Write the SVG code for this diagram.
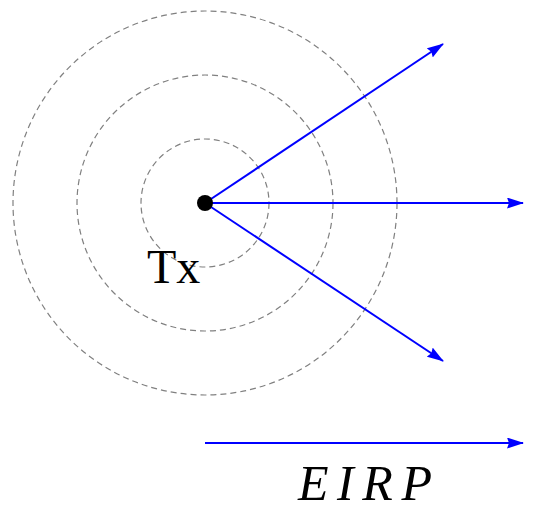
<svg xmlns="http://www.w3.org/2000/svg" width="534" height="516" viewBox="0 0 534 516">
<style>
.ring{fill:none;stroke:#808080;stroke-width:1.2;stroke-dasharray:6,4}
.ray{stroke:#0000ff;stroke-width:2;fill:none}
.lbl{font-family:"Liberation Serif",serif;fill:#000}
</style>
<defs>
<marker id="ah" viewBox="0 0 17 11" refX="16" refY="5.5" markerWidth="17" markerHeight="11" markerUnits="userSpaceOnUse" orient="auto">
<path d="M0,0 L17,5.5 L0,11 L2,5.5 Z" fill="#0000ff"/>
</marker>
</defs>
<g id="rings">
<circle class="ring" cx="205" cy="203" r="64"/>
<circle class="ring" cx="205" cy="203" r="128"/>
<circle class="ring" cx="205" cy="203" r="192"/>
</g>
<g id="connectors">
<line class="ray" x1="205" y1="203" x2="443" y2="44" marker-end="url(#ah)"/>
<line class="ray" x1="205" y1="203" x2="523" y2="203" marker-end="url(#ah)"/>
<line class="ray" x1="205" y1="203" x2="443" y2="361" marker-end="url(#ah)"/>
<line class="ray" x1="205" y1="443" x2="523" y2="443" marker-end="url(#ah)"/>
</g>
<g id="tx">
<circle cx="205" cy="203" r="8" fill="#000"/>
<text class="lbl" x="147" y="283" font-size="48">Tx</text>
</g>
<g id="eirp">
<text class="lbl" x="298" y="500" font-size="50" font-style="italic" textLength="134" lengthAdjust="spacing">EIRP</text>
</g>
</svg>
